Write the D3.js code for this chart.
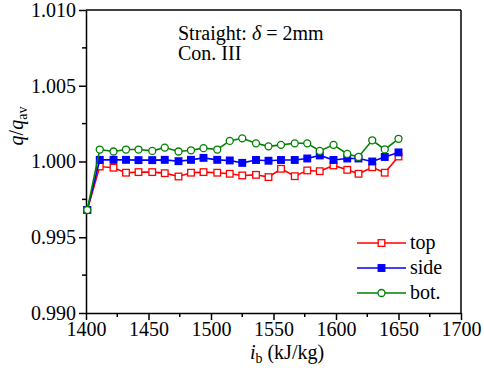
<!DOCTYPE html>
<html>
<head>
<meta charset="utf-8">
<script src="https://cdn.jsdelivr.net/npm/d3@7"></script>
<style>
  body { margin: 0; background: #fff; }
  svg { display: block; }
  .axis path, .axis line { stroke: #000; stroke-width: 1.5; }
</style>
</head>
<body>
<svg id="chart" width="484" height="368"></svg>
<script>
// enthalpy values (kJ/kg)
const enthalpy = [1401, 1411, 1422, 1432, 1442, 1453, 1463, 1474, 1484, 1494, 1505, 1515, 1525,
  1536, 1546, 1556, 1567, 1577, 1587, 1598, 1609, 1618, 1629, 1639, 1650];

const topVals = [0.9968, 0.99967, 0.99959, 0.99926, 0.9993, 0.9993, 0.99923, 0.99901, 0.99926, 0.9993,
  0.99926, 0.99919, 0.99908, 0.99912, 0.99897, 0.99952, 0.99903, 0.99941, 0.99936, 0.99974,
  0.99945, 0.99919, 0.99962, 0.99926, 1.00033];

const sideVals = [0.9968, 1.00011, 1.00011, 1.00011, 1.00009, 1.00009, 1.00011, 1.00002, 1.00011, 1.00024,
  1.00011, 1.00007, 0.99991, 1.0001, 1.00005, 1.0001, 1.0001, 1.0002, 1.0004, 1.0001,
  1.0002, 1.0002, 1.0000, 1.0003, 1.0006];

const botVals = [0.9968, 1.00079, 1.00066, 1.00079, 1.00079, 1.0007, 1.00092, 1.00066, 1.00074, 1.00088,
  1.00079, 1.00136, 1.00153, 1.0012, 1.0010, 1.0011, 1.0012, 1.0012, 1.0007, 1.0011,
  1.0005, 1.0003, 1.0014, 1.0008, 1.0015];

const seriesNames = ['top', 'side', 'bot.'];
const xTicks = [1400, 1450, 1500, 1550, 1600, 1650, 1700];
const yTicks = [0.990, 0.995, 1.000, 1.005, 1.010];

const SERIF = "'Liberation Serif', 'Times New Roman', Times, serif";

const margin = { top: 10, right: 23, bottom: 55, left: 86 };
const W = 484, H = 368;
const width = W - margin.left - margin.right;
const height = H - margin.top - margin.bottom;

const svg = d3.select('#chart');
const g = svg.append('g').attr('transform', `translate(${margin.left},${margin.top})`);

const x = d3.scaleLinear().domain([1400, 1700]).range([0, width]);
const y = d3.scaleLinear().domain([0.990, 1.010]).range([height, 0]);

// minor ticks
const xMinor = d3.range(1425, 1700, 50);
const yMinor = d3.range(0.9925, 1.010, 0.005);

g.append('g').attr('class', 'axis')
  .selectAll('line').data(xMinor).join('line')
  .attr('x1', d => x(d)).attr('x2', d => x(d))
  .attr('y1', height).attr('y2', height + 4);

g.append('g').attr('class', 'axis')
  .selectAll('line').data(yMinor).join('line')
  .attr('x1', 0).attr('x2', -4)
  .attr('y1', d => y(d)).attr('y2', d => y(d));

const axisX = d3.axisBottom(x).tickValues(xTicks).tickFormat(d3.format('d'))
  .tickSizeInner(7).tickSizeOuter(0).tickPadding(2);
const gx = g.append('g').attr('class', 'axis').attr('transform', `translate(0,${height})`).call(axisX);

const axisY = d3.axisLeft(y).tickValues(yTicks).tickFormat(d3.format('.3f'))
  .tickSizeInner(7).tickSizeOuter(0).tickPadding(3);
const gy = g.append('g').attr('class', 'axis').call(axisY);

[gx, gy].forEach(a => a.selectAll('text')
  .style('font-family', SERIF).style('font-size', '20px').style('fill', '#000'));

// frame top & right
g.append('line').attr('x1', 0).attr('x2', width).attr('y1', 0).attr('y2', 0)
  .attr('stroke', '#000').attr('stroke-width', 1.5);
g.append('line').attr('x1', width).attr('x2', width).attr('y1', 0).attr('y2', height)
  .attr('stroke', '#000').attr('stroke-width', 1.5);

const series = [
  { name: seriesNames[0], values: topVals, color: '#ff0000', shape: 'square', fill: '#fff' },
  { name: seriesNames[1], values: sideVals, color: '#0000ff', shape: 'square', fill: '#0000ff' },
  { name: seriesNames[2], values: botVals, color: '#008000', shape: 'circle', fill: '#fff' }
];

const line = d3.line().x(d => x(d.x)).y(d => y(d.y));

function drawMarker(sel, s, cx, cy) {
  if (s.shape === 'square') {
    sel.append('rect')
      .attr('x', cx - 3.3).attr('y', cy - 3.3).attr('width', 6.6).attr('height', 6.6)
      .attr('fill', s.fill).attr('stroke', s.color).attr('stroke-width', 1.3);
  } else {
    sel.append('circle')
      .attr('cx', cx).attr('cy', cy).attr('r', 3.5)
      .attr('fill', s.fill).attr('stroke', s.color).attr('stroke-width', 1.3);
  }
}

series.forEach(s => {
  const pts = enthalpy.map((e, i) => ({ x: e, y: s.values[i] }));
  g.append('path').datum(pts)
    .attr('fill', 'none').attr('stroke', s.color).attr('stroke-width', 1.6)
    .attr('d', line);
  const mg = g.append('g');
  pts.forEach(p => drawMarker(mg, s, x(p.x), y(p.y)));
});

// legend
const legend = g.append('g').attr('transform', `translate(${357 - margin.left},${243 - margin.top})`);
series.forEach((s, i) => {
  const row = legend.append('g').attr('transform', `translate(0,${i * 25})`);
  row.append('line').attr('x1', 0).attr('x2', 49).attr('y1', 0).attr('y2', 0)
    .attr('stroke', s.color).attr('stroke-width', 1.6);
  drawMarker(row, s, 24.5, 0);
  row.append('text').attr('x', 53).attr('y', 6)
    .style('font-family', SERIF).style('font-size', '20px').text(s.name);
});

// annotation
const note = svg.append('text').attr('x', 178).attr('y', 40)
  .style('font-family', SERIF).style('font-size', '20px');
note.append('tspan').text('Straight: ');
note.append('tspan').attr('font-style', 'italic').text('δ');
note.append('tspan').text(' = 2mm');
svg.append('text').attr('x', 178).attr('y', 60)
  .style('font-family', SERIF).style('font-size', '20px').text('Con. III');

// axis titles
const xt = svg.append('text').attr('x', 287).attr('y', 359)
  .attr('text-anchor', 'middle')
  .style('font-family', SERIF).style('font-size', '20px');
xt.append('tspan').attr('font-style', 'italic').text('i');
xt.append('tspan').style('font-size', '14px').attr('dy', 4).text('b');
xt.append('tspan').attr('dy', -4).text(' (kJ/kg)');

const yt = svg.append('text')
  .attr('transform', 'translate(23,126) rotate(-90)')
  .attr('text-anchor', 'middle')
  .style('font-family', SERIF).style('font-size', '20px');
yt.append('tspan').attr('font-style', 'italic').text('q');
yt.append('tspan').text('/');
yt.append('tspan').attr('font-style', 'italic').text('q');
yt.append('tspan').style('font-size', '14px').attr('dy', 4).text('av');
</script>
</body>
</html>
